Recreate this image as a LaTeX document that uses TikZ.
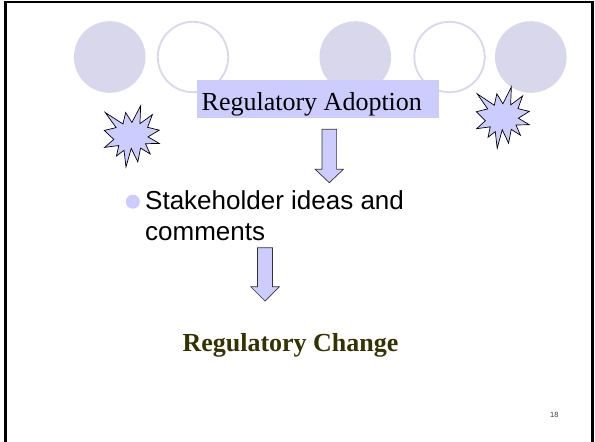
\documentclass[tikz,border=0pt]{standalone}
\usepackage{fontspec}
\setmainfont{Liberation Serif}
\setsansfont{Liberation Sans}
\definecolor{circfill}{RGB}{217,215,235}
\definecolor{boxfill}{RGB}{204,204,255}
\definecolor{olive}{RGB}{51,51,0}
\definecolor{numgray}{RGB}{60,60,60}
\tikzset{
  disc/.style={fill=circfill, draw=none},
  ring/.style={draw=circfill, line width=1.8pt, fill=none},
  starshape/.style={fill=boxfill, draw=black, line width=0.7pt, line join=miter},
  blockarrow/.style={fill=boxfill, draw=black!80, line width=0.7pt},
  serifbig/.style={font=\rmfamily\fontsize{26}{31}\selectfont, inner sep=0, anchor=base west},
  sansbig/.style={font=\sffamily\fontsize{26}{31}\selectfont, inner sep=0, anchor=base west},
}
\newcommand{\myseal}{(109.01,59.05) -- (84.58,23.99) -- (74.17,64.25) -- (4.76,23.99) -- (47.32,77.22) -- (1.06,87.18) -- (38.28,118.80) -- (2.43,146.89) -- (57.72,140.41) -- (48.68,177.19) -- (78.19,157.30) -- (85.90,216) -- (106.37,150.38) -- (132.04,197.90) -- (142.78,149.35) -- (180.10,169.94) -- (162.09,133.96) -- (216,132.89) -- (171.65,109.91) -- (216,86.09) -- (170.05,76.14) -- (189,31.35) -- (140.33,63.17) -- (143.31,0) -- cycle}
\begin{document}
\begin{tikzpicture}[x=1pt,y=-1pt]
\useasboundingbox (0,0) rectangle (595,442);
\fill[white] (0,0) rectangle (595,442);
% frame
\draw[line width=2.5pt] (5.7,445) -- (5.7,2) -- (592.3,2) -- (592.3,445);
% circles
\fill[disc] (109.7,57) circle (35.8);
\draw[ring] (193,57) circle (35.2);
\fill[disc] (355.3,57) circle (35.8);
\draw[ring] (449.5,57) circle (35.2);
\fill[disc] (530.8,57) circle (35.8);
% stars
\begin{scope}[shift={(104,105.7)}, x=55.3pt/216, y=-61.3pt/216]
  \draw[starshape] \myseal;
\end{scope}
\begin{scope}[shift={(476,87)}, x=53.3pt/216, y=-61.3pt/216]
  \draw[starshape] \myseal;
\end{scope}
% title box
\node[fill=boxfill, minimum width=242.3pt, minimum height=37.3pt, inner sep=0, anchor=north west] (adoptbox) at (196.7,80) {};
\node[serifbig] (adopt) at (201.5,110.7) {Regulatory Adoption};
% arrow 1
\draw[blockarrow] (322,129.3) -- (336.6,129.3) -- (336.6,169.3) -- (343.4,169.3) -- (329.3,182.7) -- (315.2,169.3) -- (322,169.3) -- cycle;
% bullet
\fill[boxfill] (132.8,201.7) circle (7);
\node[sansbig] (stake1) at (145,209.3) {Stakeholder ideas and};
\node[sansbig] (stake2) at (145,240.7) {comments};
% arrow 2
\draw[blockarrow] (257.5,247.7) -- (272.5,247.7) -- (272.5,286.7) -- (279.3,286.7) -- (265,301) -- (250.7,286.7) -- (257.5,286.7) -- cycle;
% result
\node[serifbig, font=\rmfamily\bfseries\fontsize{26}{31}\selectfont, text=olive] (change) at (182.3,351) {Regulatory Change};
% page number
\node[inner sep=0, anchor=base west, font=\sffamily\fontsize{7.5}{9}\selectfont, text=numgray] (pnum) at (550,417.7) {18};
\end{tikzpicture}
\end{document}
